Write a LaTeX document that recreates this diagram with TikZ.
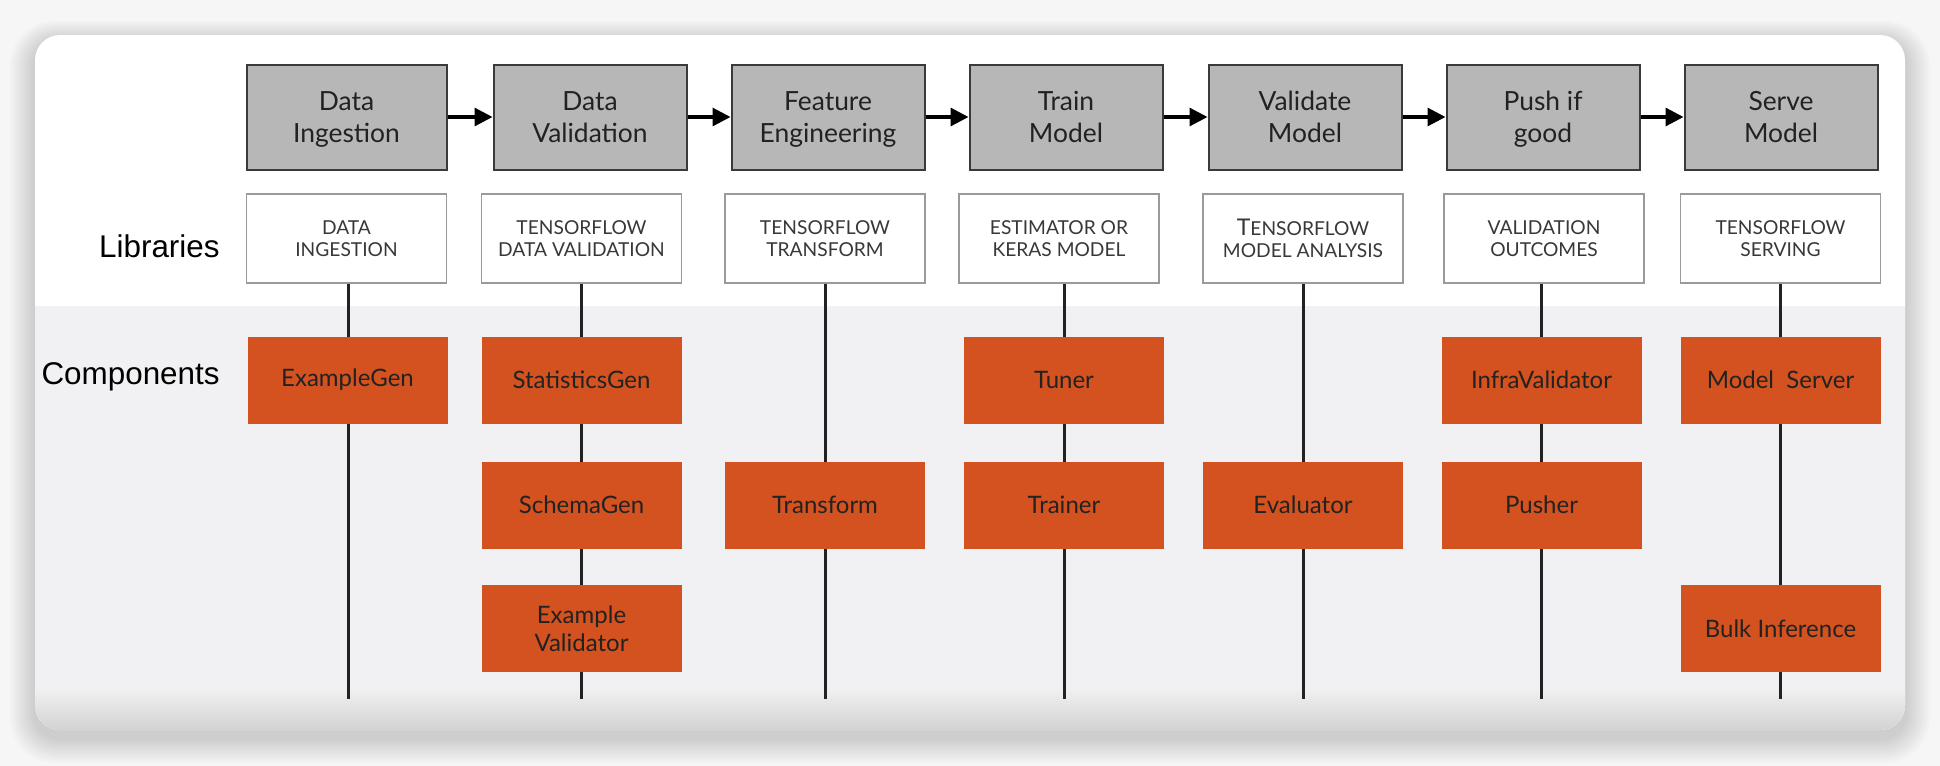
\documentclass[tikz,border=0pt]{standalone}
\usepackage{fontspec}
\setmainfont{Lato}
\newfontfamily\arialfont{Liberation Sans}
\usetikzlibrary{arrows.meta}
\newcommand{\tstrut}{\rule[-3pt]{0pt}{15.2pt}}
\definecolor{pagebg}{HTML}{F6F6F6}
\definecolor{lowbg}{HTML}{F1F1F3}
\definecolor{lowdark}{HTML}{D2D2D2}
\definecolor{stagefill}{HTML}{B7B7B7}
\definecolor{stagedraw}{HTML}{3A3A3A}
\definecolor{libdraw}{HTML}{9A9A9A}
\definecolor{compfill}{HTML}{D3521F}
\definecolor{txt}{HTML}{222222}
\tikzset{
 stage/.style={draw=stagedraw, line width=1pt, fill=stagefill, minimum width=96.5pt, minimum height=52.5pt, align=center, font=\fontsize{13.2}{16}\selectfont, text=txt, inner sep=0pt},
 lib/.style={draw=libdraw, line width=0.8pt, fill=white, minimum width=100pt, minimum height=44.5pt, align=center, font=\fontsize{9.6}{10.8}\selectfont, text=txt!90, inner sep=0pt},
 comp/.style={fill=compfill, minimum width=100pt, minimum height=43.5pt, align=center, font=\fontsize{12}{14}\selectfont, text=txt, inner sep=0pt},
 link/.style={line width=1.5pt, draw=txt},
 flow/.style={line width=1.6pt, draw=black, -{Triangle[length=9pt,width=9pt]}},
 side/.style={font=\arialfont\fontsize{15.7}{18}\selectfont, anchor=east, text=black, inner sep=0pt}
}
\begin{document}
\begin{tikzpicture}[x=0.5pt,y=-0.5pt]
\useasboundingbox (0,0) rectangle (1940,766);
\fill[pagebg] (0,0) rectangle (1940,766);
% shadow of the card
\foreach \i in {1,...,10}{
  \fill[black, opacity=0.014, rounded corners=12.5pt+\i*1pt] (35-\i*2.5,35-\i*2+6) rectangle (1905+\i*2.5,730+\i*2.5+8);
}
% card
\fill[white, rounded corners=12.5pt] (35,35) rectangle (1905,730);
\begin{scope}
  \clip[rounded corners=12.5pt] (35,35) rectangle (1905,730);
  \fill[lowbg] (35,306) rectangle (1905,730);
  \shade[top color=lowbg, bottom color=lowdark] (35,688) rectangle (1905,730);
\end{scope}

% side labels
\node[side] (libs) at (220,246) {Libraries};
\node[side] (comps) at (220,377) {Components};

% stages
\node[stage, minimum width=100pt] (s1) at (346.5,117) {Data\tstrut\\Ingestion\tstrut};
\node[stage] (s2) at (590,117) {Data\tstrut\\Validation\tstrut};
\node[stage] (s3) at (828,117) {Feature\tstrut\\Engineering\tstrut};
\node[stage] (s4) at (1066,117) {Train\tstrut\\Model\tstrut};
\node[stage] (s5) at (1305,117) {Validate\tstrut\\Model\tstrut};
\node[stage] (s6) at (1543,117) {Push if\tstrut\\good\tstrut};
\node[stage] (s7) at (1781,117) {Serve\tstrut\\Model\tstrut};
\draw[flow] (s1.east) -- (s2.west);
\draw[flow] (s2.east) -- (s3.west);
\draw[flow] (s3.east) -- (s4.west);
\draw[flow] (s4.east) -- (s5.west);
\draw[flow] (s5.east) -- (s6.west);
\draw[flow] (s6.east) -- (s7.west);

% libraries
\node[lib] (l1) at (346.5,238.5) {DATA\\INGESTION};
\node[lib] (l2) at (581.5,238.5) {TENSORFLOW\\DATA VALIDATION};
\node[lib] (l3) at (825,238.5) {TENSORFLOW\\TRANSFORM};
\node[lib] (l4) at (1059,238.5) {ESTIMATOR OR\\KERAS MODEL};
\node[lib] (l5) at (1303,238.5) {{\fontsize{11.5}{10.8}\selectfont T}ENSORFLOW\\MODEL ANALYSIS};
\node[lib] (l6) at (1544,238.5) {VALIDATION\\OUTCOMES};
\node[lib] (l7) at (1780.5,238.5) {TENSORFLOW\\SERVING};

% column ends
\coordinate (b1) at (348,699);
\coordinate (b2) at (581.5,699);
\coordinate (b3) at (825,699);
\coordinate (b4) at (1064,699);
\coordinate (b5) at (1303,699);
\coordinate (b6) at (1541.5,699);
\coordinate (b7) at (1780,699);
\draw[link] (l1.south -| b1) -- (b1);
\draw[link] (l2.south -| b2) -- (b2);
\draw[link] (l3.south -| b3) -- (b3);
\draw[link] (l4.south -| b4) -- (b4);
\draw[link] (l5.south -| b5) -- (b5);
\draw[link] (l6.south -| b6) -- (b6);
\draw[link] (l7.south -| b7) -- (b7);

% components
\node[comp] (c1) at (347.5,380) {ExampleGen};
\node[comp] (c2a) at (581.5,380) {StatisticsGen};
\node[comp] (c2b) at (581.5,505) {SchemaGen};
\node[comp] (c2c) at (581.5,628.5) {Example\\Validator};
\node[comp] (c3) at (825,505) {Transform};
\node[comp] (c4a) at (1064,380) {Tuner};
\node[comp] (c4b) at (1064,505) {Trainer};
\node[comp] (c5) at (1303,505) {Evaluator};
\node[comp] (c6a) at (1541.5,380) {InfraValidator};
\node[comp] (c6b) at (1541.5,505) {Pusher};
\node[comp] (c7a) at (1780.5,380) {Model\ \ Server};
\node[comp] (c7b) at (1780.5,628.5) {Bulk Inference};
\end{tikzpicture}
\end{document}
